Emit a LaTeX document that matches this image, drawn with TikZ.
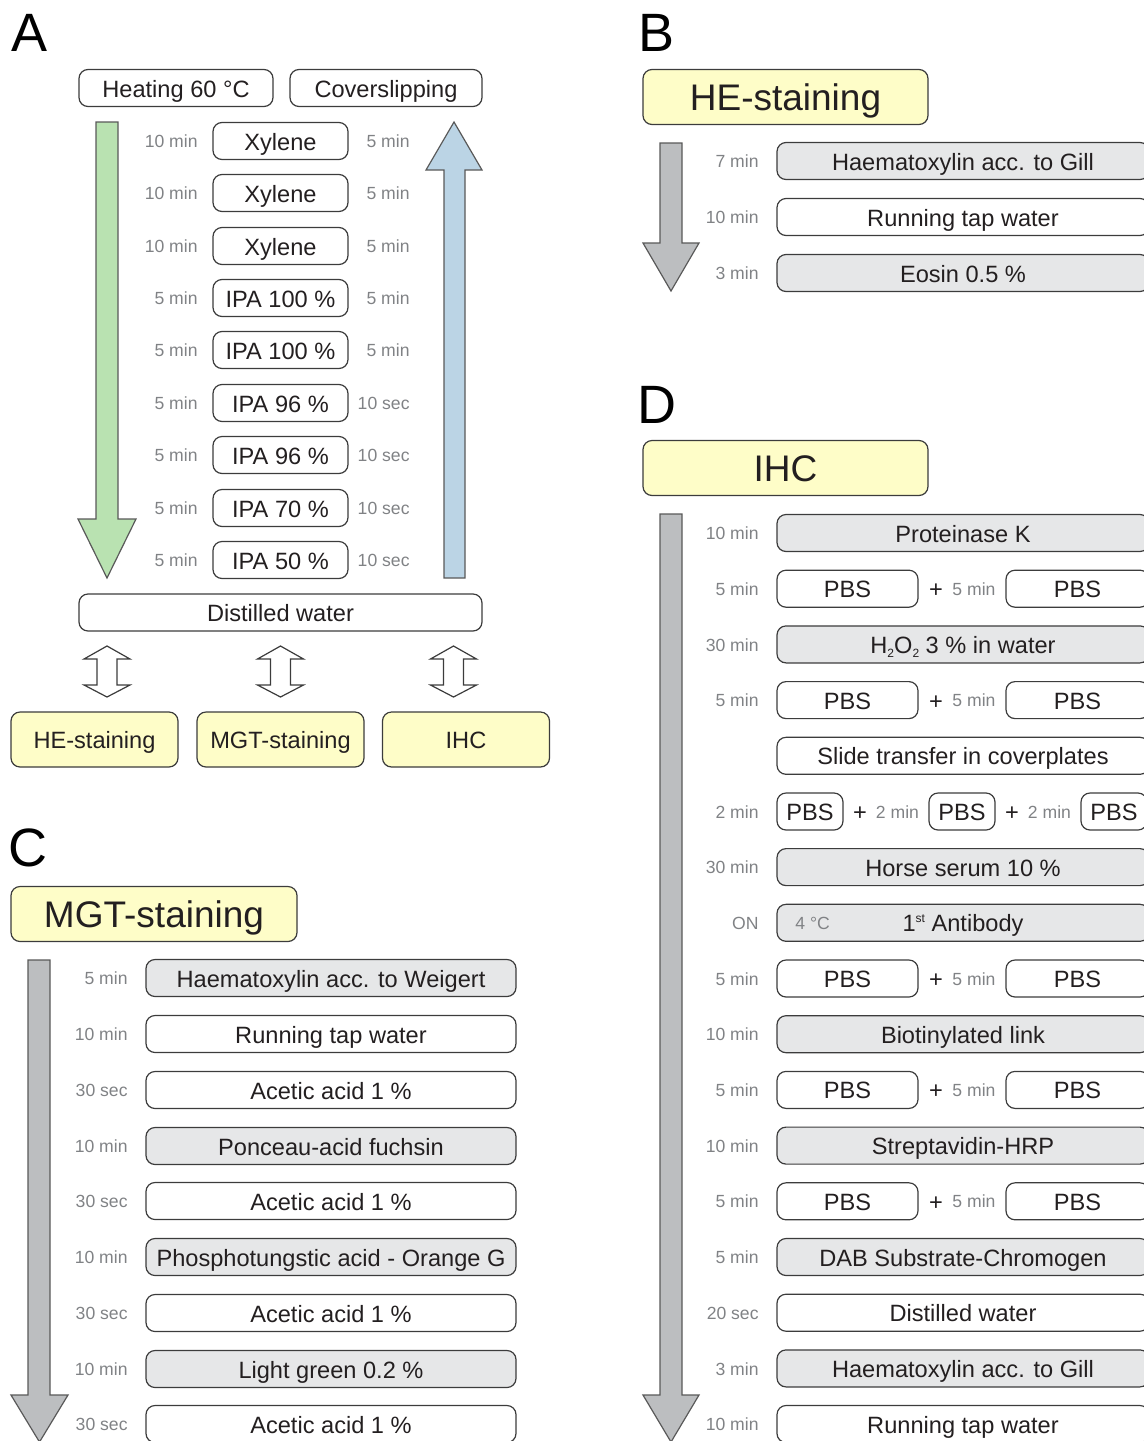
\documentclass[tikz,border=0pt]{standalone}
\usepackage{fontspec}
\setmainfont{Liberation Sans}

\definecolor{ink}{HTML}{231F20}
\definecolor{tmgray}{HTML}{808285}
\definecolor{boxgray}{HTML}{E6E7E8}
\definecolor{ylw}{HTML}{FEFDC8}
\definecolor{arrgreen}{HTML}{B9E2B1}
\definecolor{arrblue}{HTML}{BBD4E5}
\definecolor{arrgray}{HTML}{BCBEC0}
\definecolor{lin}{HTML}{3C3C3C}

\newcommand{\lowtxt}[1]{\raisebox{-2.2pt}{\fontsize{6}{6}\selectfont #1}}
\newcommand{\hightxt}[1]{\raisebox{4.6pt}{\fontsize{6}{6}\selectfont #1}}

\begin{document}
\begin{tikzpicture}[x=0.5pt, y=-0.5pt,
    box/.style={draw=lin, line width=0.6pt, rounded corners=4.5pt, inner sep=0pt,
      minimum height=18.5pt, text=ink, text height=9pt, text depth=0pt,
      font=\fontsize{11.8}{13}\selectfont},
    gbox/.style={box, fill=boxgray},
    ybox/.style={box, fill=ylw, minimum height=27.5pt},
    bigy/.style={ybox, text height=13.6pt, font=\fontsize{18.5}{20}\selectfont},
    tm/.style={anchor=east, inner sep=0pt, text=tmgray, text height=6.6pt, text depth=0pt,
      font=\fontsize{8.8}{10}\selectfont},
    plus/.style={inner sep=0pt, text=ink, text height=9pt, text depth=0pt,
      font=\fontsize{11.8}{13}\selectfont},
    letter/.style={inner sep=0pt, text=black, font=\fontsize{27}{30}\selectfont},
    bigarrow/.style={draw=lin!85, line width=0.6pt},
    dblarrow/.style={draw=lin, fill=white, line width=0.6pt}]

    \clip (0,0) rectangle (1144,1441);

    % ---------------- A ----------------
    \node[letter] (A_lab) at (30,33) {A};
    \node[box, minimum width=97pt] (A_heat) at (176,88) {Heating 60 °C};
    \node[box, minimum width=96pt] (A_cover) at (386,88) {Coverslipping};

    % Pfeile
    \draw[bigarrow, fill=arrgreen] (96,122) -- (118,122) -- (118,519) -- (136,519)
        -- (107,578) -- (78,519) -- (96,519) -- cycle;
    \draw[bigarrow, fill=arrblue] (454,122) -- (482,170) -- (465,170) -- (465,578)
        -- (444,578) -- (444,170) -- (426,170) -- cycle;

    % Reihen
    \node[box, minimum width=67.5pt] (A_1) at (280.5,141) {Xylene};
    \node[box, minimum width=67.5pt] (A_2) at (280.5,193) {Xylene};
    \node[box, minimum width=67.5pt] (A_3) at (280.5,246) {Xylene};
    \node[box, minimum width=67.5pt] (A_4) at (280.5,298) {IPA 100 \%};
    \node[box, minimum width=67.5pt] (A_5) at (280.5,350) {IPA 100 \%};
    \node[box, minimum width=67.5pt] (A_6) at (280.5,403) {IPA 96 \%};
    \node[box, minimum width=67.5pt] (A_7) at (280.5,455) {IPA 96 \%};
    \node[box, minimum width=67.5pt] (A_8) at (280.5,508) {IPA 70 \%};
    \node[box, minimum width=67.5pt] (A_9) at (280.5,560) {IPA 50 \%};

    % Zeiten links
    \node[tm] (A_t1) at (198,141) {10 min};
    \node[tm] (A_t2) at (198,193) {10 min};
    \node[tm] (A_t3) at (198,246) {10 min};
    \node[tm] (A_t4) at (198,298) {5 min};
    \node[tm] (A_t5) at (198,350) {5 min};
    \node[tm] (A_t6) at (198,403) {5 min};
    \node[tm] (A_t7) at (198,455) {5 min};
    \node[tm] (A_t8) at (198,508) {5 min};
    \node[tm] (A_t9) at (198,560) {5 min};

    % Zeiten rechts
    \node[tm] (A_r1) at (410,141) {5 min};
    \node[tm] (A_r2) at (410,193) {5 min};
    \node[tm] (A_r3) at (410,246) {5 min};
    \node[tm] (A_r4) at (410,298) {5 min};
    \node[tm] (A_r5) at (410,350) {5 min};
    \node[tm] (A_r6) at (410,403) {10 sec};
    \node[tm] (A_r7) at (410,455) {10 sec};
    \node[tm] (A_r8) at (410,508) {10 sec};
    \node[tm] (A_r9) at (410,560) {10 sec};

    \node[box, minimum width=201.5pt] (A_dist) at (280.5,612.5) {Distilled water};

    % Doppelpfeile
    \draw[dblarrow] (107,646) -- ++(23,13) -- ++(-13,0) -- ++(0,26) -- ++(13,0)
        -- ++(-23,12) -- ++(-23,-12) -- ++(13,0) -- ++(0,-26) -- ++(-13,0) -- cycle;
    \draw[dblarrow] (280.5,646) -- ++(23,13) -- ++(-13,0) -- ++(0,26) -- ++(13,0)
        -- ++(-23,12) -- ++(-23,-12) -- ++(13,0) -- ++(0,-26) -- ++(-13,0) -- cycle;
    \draw[dblarrow] (453.5,646) -- ++(23,13) -- ++(-13,0) -- ++(0,26) -- ++(13,0)
        -- ++(-23,12) -- ++(-23,-12) -- ++(13,0) -- ++(0,-26) -- ++(-13,0) -- cycle;

    \node[ybox, minimum width=83.5pt] (A_he) at (94.5,739.5) {HE-staining};
    \node[ybox, minimum width=83.5pt] (A_mgt) at (280.5,739.5) {MGT-staining};
    \node[ybox, minimum width=83.5pt] (A_ihc) at (466,739.5) {IHC};

    % ---------------- B ----------------
    \node[letter] (B_lab) at (657,33) {B};
    \node[bigy, minimum width=142.5pt] (B_head) at (785.5,97) {HE-staining};
    \draw[bigarrow, fill=arrgray] (660,143) -- (682,143) -- (682,243) -- (699,243)
        -- (671,291) -- (643,243) -- (660,243) -- cycle;

    \node[gbox, minimum width=186pt] (B_1) at (963,161) {Haematoxylin acc. to Gill};
    \node[box, minimum width=186pt] (B_2) at (963,217) {Running tap water};
    \node[gbox, minimum width=186pt] (B_3) at (963,273) {Eosin 0.5 \%};
    \node[tm] (B_t1) at (759,161) {7 min};
    \node[tm] (B_t2) at (759,217) {10 min};
    \node[tm] (B_t3) at (759,273) {3 min};

    % ---------------- C ----------------
    \node[letter] (C_lab) at (28,848) {C};
    \node[bigy, minimum width=143pt] (C_head) at (154,914) {MGT-staining};
    \draw[bigarrow, fill=arrgray] (28,960) -- (50,960) -- (50,1395) -- (68,1395)
        -- (39.5,1442) -- (11,1395) -- (28,1395) -- cycle;

    \node[gbox, minimum width=185pt] (C_1) at (331,978) {Haematoxylin acc. to Weigert};
    \node[box, minimum width=185pt] (C_2) at (331,1034) {Running tap water};
    \node[box, minimum width=185pt] (C_3) at (331,1090) {Acetic acid 1 \%};
    \node[gbox, minimum width=185pt] (C_4) at (331,1146) {Ponceau-acid fuchsin};
    \node[box, minimum width=185pt] (C_5) at (331,1201) {Acetic acid 1 \%};
    \node[gbox, minimum width=185pt] (C_6) at (331,1257) {Phosphotungstic acid - Orange G};
    \node[box, minimum width=185pt] (C_7) at (331,1313) {Acetic acid 1 \%};
    \node[gbox, minimum width=185pt] (C_8) at (331,1369) {Light green 0.2 \%};
    \node[box, minimum width=185pt] (C_9) at (331,1424) {Acetic acid 1 \%};

    \node[tm] (C_t1) at (128,978) {5 min};
    \node[tm] (C_t2) at (128,1034) {10 min};
    \node[tm] (C_t3) at (128,1090) {30 sec};
    \node[tm] (C_t4) at (128,1146) {10 min};
    \node[tm] (C_t5) at (128,1201) {30 sec};
    \node[tm] (C_t6) at (128,1257) {10 min};
    \node[tm] (C_t7) at (128,1313) {30 sec};
    \node[tm] (C_t8) at (128,1369) {10 min};
    \node[tm] (C_t9) at (128,1424) {30 sec};

    % ---------------- D ----------------
    \node[letter] (D_lab) at (657,405) {D};
    \node[bigy, minimum width=142.5pt] (D_head) at (785.5,468) {IHC};
    \draw[bigarrow, fill=arrgray] (660,514) -- (682,514) -- (682,1395) -- (699,1395)
        -- (671,1442) -- (643,1395) -- (660,1395) -- cycle;

    \node[gbox, minimum width=186pt] (D_1) at (963,533) {Proteinase K};
    % PBS
    \node[box, minimum width=70.5pt] (D_2a) at (847.5,588.7) {PBS};
    \node[plus] (D_2p) at (936,588.7) {+};
    \node[tm, anchor=center] (D_2m) at (974,588.7) {5 min};
    \node[box, minimum width=71.5pt] (D_2b) at (1077.5,588.7) {PBS};
    \node[gbox, minimum width=186pt] (D_3) at (963,644.4)
        {H\lowtxt{2}O\lowtxt{2} 3 \% in water};
    % PBS
    \node[box, minimum width=70.5pt] (D_4a) at (847.5,700.1) {PBS};
    \node[plus] (D_4p) at (936,700.1) {+};
    \node[tm, anchor=center] (D_4m) at (974,700.1) {5 min};
    \node[box, minimum width=71.5pt] (D_4b) at (1077.5,700.1) {PBS};
    \node[box, minimum width=186pt] (D_5) at (963,755.8) {Slide transfer in coverplates};
    % 3 x PBS
    \node[box, minimum width=33pt] (D_6a) at (810,811.5) {PBS};
    \node[plus] (D_6p) at (860,811.5) {+};
    \node[tm, anchor=center] (D_6m) at (897.5,811.5) {2 min};
    \node[box, minimum width=33pt] (D_6b) at (962,811.5) {PBS};
    \node[plus] (D_6q) at (1012,811.5) {+};
    \node[tm, anchor=center] (D_6n) at (1049.5,811.5) {2 min};
    \node[box, minimum width=33pt] (D_6c) at (1114,811.5) {PBS};
    \node[gbox, minimum width=186pt] (D_7) at (963,867.1) {Horse serum 10 \%};
    \node[gbox, minimum width=186pt] (D_8) at (963,922.8) {1\hightxt{st} Antibody};
    \node[tm, anchor=west] (D_8c) at (795,922.8) {4 °C};
    % PBS
    \node[box, minimum width=70.5pt] (D_9a) at (847.5,978.5) {PBS};
    \node[plus] (D_9p) at (936,978.5) {+};
    \node[tm, anchor=center] (D_9m) at (974,978.5) {5 min};
    \node[box, minimum width=71.5pt] (D_9b) at (1077.5,978.5) {PBS};
    \node[gbox, minimum width=186pt] (D_10) at (963,1034.2) {Biotinylated link};
    % PBS
    \node[box, minimum width=70.5pt] (D_11a) at (847.5,1089.9) {PBS};
    \node[plus] (D_11p) at (936,1089.9) {+};
    \node[tm, anchor=center] (D_11m) at (974,1089.9) {5 min};
    \node[box, minimum width=71.5pt] (D_11b) at (1077.5,1089.9) {PBS};
    \node[gbox, minimum width=186pt] (D_12) at (963,1145.6) {Streptavidin-HRP};
    % PBS
    \node[box, minimum width=70.5pt] (D_13a) at (847.5,1201.3) {PBS};
    \node[plus] (D_13p) at (936,1201.3) {+};
    \node[tm, anchor=center] (D_13m) at (974,1201.3) {5 min};
    \node[box, minimum width=71.5pt] (D_13b) at (1077.5,1201.3) {PBS};
    \node[gbox, minimum width=186pt] (D_14) at (963,1257) {DAB Substrate-Chromogen};
    \node[box, minimum width=186pt] (D_15) at (963,1312.7) {Distilled water};
    \node[gbox, minimum width=186pt] (D_16) at (963,1368.4) {Haematoxylin acc. to Gill};
    \node[box, minimum width=186pt] (D_17) at (963,1424) {Running tap water};

    % Zeiten
    \node[tm] (D_t1) at (759,533) {10 min};
    \node[tm] (D_t2) at (759,588.7) {5 min};
    \node[tm] (D_t3) at (759,644.4) {30 min};
    \node[tm] (D_t4) at (759,700.1) {5 min};
    \node[tm] (D_t6) at (759,811.5) {2 min};
    \node[tm] (D_t7) at (759,867.1) {30 min};
    \node[tm] (D_t8) at (759,922.8) {ON};
    \node[tm] (D_t9) at (759,978.5) {5 min};
    \node[tm] (D_t10) at (759,1034.2) {10 min};
    \node[tm] (D_t11) at (759,1089.9) {5 min};
    \node[tm] (D_t12) at (759,1145.6) {10 min};
    \node[tm] (D_t13) at (759,1201.3) {5 min};
    \node[tm] (D_t14) at (759,1257) {5 min};
    \node[tm] (D_t15) at (759,1312.7) {20 sec};
    \node[tm] (D_t16) at (759,1368.4) {3 min};
    \node[tm] (D_t17) at (759,1424) {10 min};
\end{tikzpicture}
\end{document}
